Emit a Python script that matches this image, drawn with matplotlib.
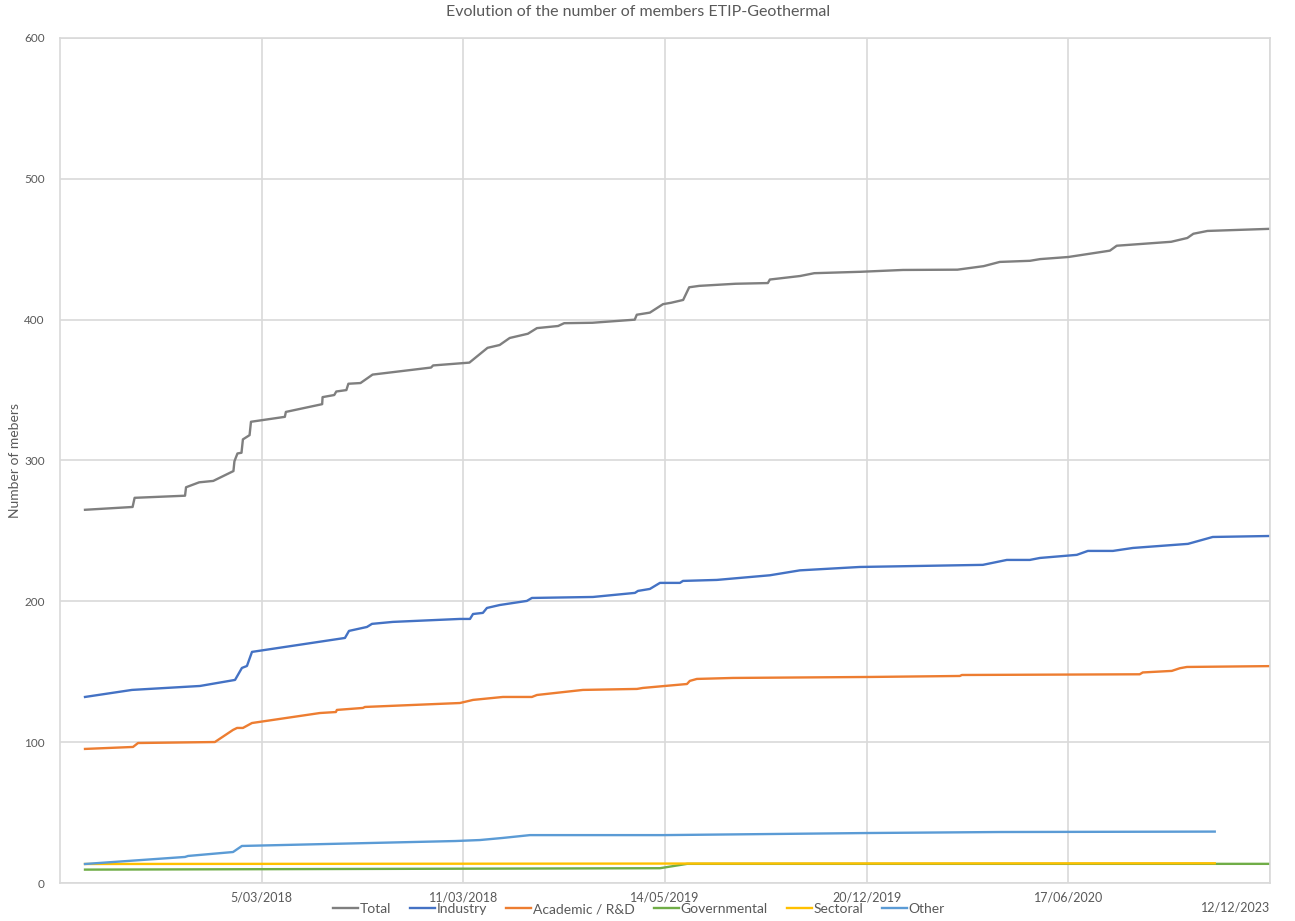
import numpy as np
import matplotlib.pyplot as plt

plt.rcParams['font.family'] = ['Lato', 'DejaVu Sans']

# positions along the (category) date axis, gridlines every 10 units
tick_pos = [10, 20, 30, 40, 50, 60]
tick_labels = ['5/03/2018', '11/03/2018', '14/05/2019', '20/12/2019', '17/06/2020', '12/12/2023']

total_x = [1.24, 3.6, 3.7, 6.2, 6.25, 6.9, 7.6, 8.6, 8.65, 8.8, 9.0, 9.07, 9.4, 9.47,
           11.15, 11.2, 13.0, 13.02, 13.6, 13.7, 14.2, 14.3, 14.9, 15.5, 18.4, 18.5,
           20.3, 21.2, 21.8, 22.3, 23.2, 23.65, 24.7, 25.0, 26.4, 28.5, 28.6, 29.25,
           29.9, 30.3, 30.9, 31.2, 31.7, 33.5, 35.1, 35.2, 36.7, 37.4, 39.7, 41.8,
           44.5, 45.8, 46.6, 48.1, 48.6, 50.0, 52.06, 52.4, 55.1, 55.9, 56.2, 56.9, 60.0]
total_y = [265, 267, 273.5, 275, 281, 284.5, 285.5, 292.5, 299.5, 305, 305.5, 315, 318, 327.5,
           331, 334.5, 340, 345, 346.5, 349, 350, 354.5, 355, 361, 366, 367.5,
           369.5, 380, 382, 387, 390, 394, 395.5, 397.5, 397.8, 400, 403.5, 405,
           411, 412, 414, 423, 424, 425.5, 426, 428.5, 431, 433, 434, 435.3,
           435.5, 438, 441, 441.8, 443, 444.5, 449, 452.5, 455.3, 458, 461, 463, 464.5]

industry_x = [1.24, 3.57, 6.94, 8.68, 9.02, 9.27, 9.52, 14.13, 14.33, 15.22, 15.47, 16.51,
              19.83, 20.33, 20.48, 20.97, 21.17, 21.81, 23.15, 23.4, 26.43, 28.51, 28.66,
              29.25, 29.75, 30.74, 30.89, 32.57, 35.2, 36.69, 39.66, 45.76, 46.95, 48.09,
              48.59, 50.42, 50.97, 52.21, 53.2, 55.93, 57.16, 60.0]
industry_y = [132.1, 137.1, 139.9, 144.2, 152.7, 154.1, 164.1, 174, 179, 181.8, 184, 185.4,
              187.5, 187.5, 191, 191.8, 195.3, 197.4, 200.3, 202.4, 203.1, 206, 207.4,
              208.8, 213.1, 213.1, 214.5, 215.2, 218.5, 222, 224.4, 225.9, 229.4, 229.4,
              230.8, 233, 235.8, 235.8, 237.9, 240.8, 245.7, 246.4]

academic_x = [1.24, 3.62, 3.87, 7.68, 8.58, 8.78, 9.07, 9.52, 12.89, 13.68, 13.73, 15.02,
              15.12, 19.83, 20.48, 21.96, 23.4, 23.65, 25.93, 28.61, 28.9, 29.99, 31.09,
              31.23, 31.58, 33.37, 40.16, 44.62, 44.72, 53.54, 53.69, 55.13, 55.53, 55.88, 60.0]
academic_y = [95.2, 96.6, 99.4, 100.1, 108.7, 110.1, 110.1, 113.6, 120.7, 121.4, 122.9, 124.3,
              125, 127.8, 130, 132.1, 132.1, 133.5, 137.1, 137.8, 138.5, 139.9, 141.3,
              143.5, 144.9, 145.6, 146.3, 147, 147.7, 148.2, 149.5, 150.6, 152.5, 153.4, 154]

gov_x = [1.24, 29.75, 31.1, 60.0]
gov_y = [9.5, 10.5, 13.6, 13.6]

sectoral_x = [1.24, 29.9, 57.26]
sectoral_y = [13.5, 13.8, 14.0]

other_x = [1.24, 6.2, 6.35, 8.58, 9.02, 19.6, 20.82, 21.96, 23.3, 29.9, 40.16, 46.6, 57.26]
other_y = [13.5, 18.5, 19.2, 22, 26.3, 29.8, 30.5, 32, 34, 34, 35.5, 36.2, 36.5]

fig = plt.figure(figsize=(12.95, 9.21), dpi=100)
ax = fig.add_axes([60/1295, 1 - 883/921, 1210/1295, 845/921])

lw = 1.7
ax.plot(total_x, total_y, color='#7F7F7F', lw=lw, label='Total')
ax.plot(industry_x, industry_y, color='#4472C4', lw=lw, label='Industry')
ax.plot(academic_x, academic_y, color='#ED7D31', lw=lw, label='Academic / R&D')
ax.plot(gov_x, gov_y, color='#70AD47', lw=lw, label='Governmental')
ax.plot(sectoral_x, sectoral_y, color='#FFC000', lw=lw, label='Sectoral')
ax.plot(other_x, other_y, color='#5B9BD5', lw=lw, label='Other')

ax.set_xlim(0, 60)
ax.set_ylim(0, 600)
ax.set_yticks(np.arange(0, 601, 100))
ax.set_xticks(tick_pos)
ax.set_xticklabels(tick_labels)
ax.grid(True, color='#D9D9D9', lw=1.2)
ax.set_axisbelow(True)
for s in ax.spines.values():
    s.set_color('#D9D9D9')
    s.set_linewidth(1.2)
ax.tick_params(length=0, colors='#595959', labelsize=8.5)
ax.tick_params(axis='y', pad=11)
ax.tick_params(axis='x', pad=6, labelsize=9)

last = ax.get_xticklabels()[-1]
last.set_horizontalalignment('right')
last.set_y(-0.012)

fig.text(638/1295, 1 - 12/921, 'Evolution of the number of members ETIP-Geothermal',
         ha='center', va='center', fontsize=11.5, color='#595959')
fig.text(15/1295, 1 - 461/921, 'Number of mebers', rotation=90,
         ha='center', va='center', fontsize=10, color='#595959')

fig.legend(loc='center', bbox_to_anchor=(639/1295, 1 - 909/921), ncol=6, frameon=False,
           fontsize=10, labelcolor='#595959', handlelength=1.8, handletextpad=0.1,
           columnspacing=1.4)

fig.savefig('out.png', dpi=100)
